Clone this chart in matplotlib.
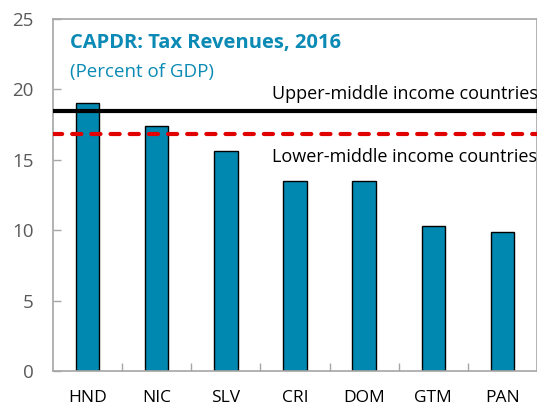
import matplotlib
matplotlib.use("Agg")
import matplotlib.pyplot as plt

categories = ["HND", "NIC", "SLV", "CRI", "DOM", "GTM", "PAN"]
tax_revenue = [19.0, 17.4, 15.6, 13.5, 13.5, 10.3, 9.9]
upper_middle = 18.5
lower_middle = 16.8
yticks = [0, 5, 10, 15, 20, 25]

plt.rcParams['font.family'] = ['Open Sans', 'DejaVu Sans']

W, H = 537, 411
fig = plt.figure(figsize=(W / 100, H / 100), dpi=100)
ax = fig.add_axes([53 / W, 1 - 371 / H, (537 - 53) / W, (371 - 19) / H])

x = list(range(len(categories)))
ax.bar(x, tax_revenue, width=0.34, color="#0088b0", edgecolor="black", linewidth=1.0, zorder=2)
ax.axhline(upper_middle, color="black", linewidth=3.0, zorder=3)
ax.axhline(lower_middle, color="#e00000", linewidth=3.0, linestyle=(0, (2.2, 2.4)),
           dash_capstyle='round', zorder=3)

ax.set_xlim(-0.5, len(categories) - 0.5)
ax.set_ylim(0, 25)
ax.set_yticks(yticks)
ax.set_xticks(x)
ax.set_xticklabels(categories)
ax.set_xticks([i + 0.5 for i in x[:-1]], minor=True)

ax.tick_params(axis='y', direction='in', length=6, width=1, color="#a6a6a6",
               labelsize=13.5, labelcolor="#595959", pad=14)
ax.tick_params(axis='x', which='major', length=0, labelsize=12.5, labelcolor="black", pad=14)
ax.tick_params(axis='x', which='minor', direction='in', length=6, width=1, color="#a6a6a6")

for s in ax.spines.values():
    s.set_color("#a6a6a6")
    s.set_linewidth(1.2)

ax.text(70 / W, 1 - 43 / H, "CAPDR: Tax Revenues, 2016", transform=fig.transFigure,
        fontsize=14.5, fontweight='bold', color="#0a8ab4", va='center', ha='left')
ax.text(70 / W, 1 - 72 / H, "(Percent of GDP)", transform=fig.transFigure,
        fontsize=13.5, color="#0a8ab4", va='center', ha='left')

ax.text(272 / W, 1 - 94 / H, "Upper-middle income countries", transform=fig.transFigure,
        fontsize=13, color="black", va='center', ha='left')
ax.text(272 / W, 1 - 157 / H, "Lower-middle income countries", transform=fig.transFigure,
        fontsize=13, color="black", va='center', ha='left')

fig.savefig("out.png", dpi=100)
